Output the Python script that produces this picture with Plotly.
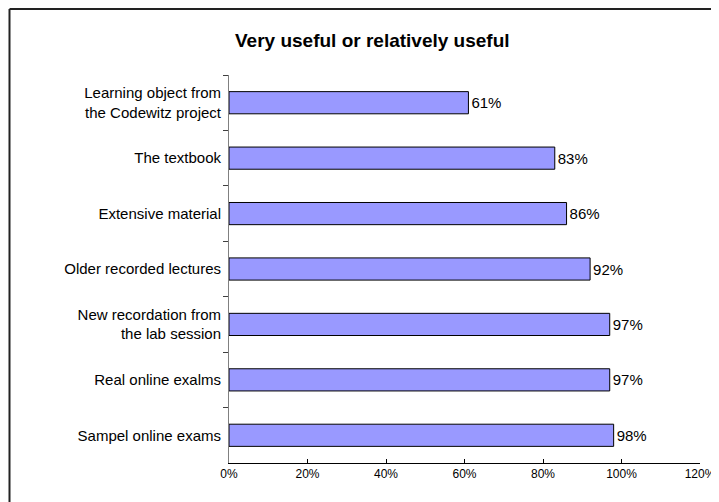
import plotly.graph_objects as go

categories = [
    "Learning object from<br>the Codewitz project",
    "The textbook",
    "Extensive material",
    "Older recorded lectures",
    "New recordation from<br>the lab session",
    "Real online exalms",
    "Sampel online exams",
]
values = [0.61, 0.83, 0.86, 0.92, 0.97, 0.97, 0.98]
value_labels = ["61%", "83%", "86%", "92%", "97%", "97%", "98%"]
x_tickvals = [0, 0.2, 0.4, 0.6, 0.8, 1.0, 1.2]
x_ticktext = ["0%", "20%", "40%", "60%", "80%", "100%", "120%"]
title_text = "Very useful or relatively useful"

# page body has an 8px default margin; figure coordinates are offset accordingly
W, H = 719, 502
L, R, T, B = 221, 27, 67, 47
pw, ph = W - L - R, H - T - B

def px_x(px):
    return (px - L) / pw

def px_y(py):
    return (H - B - py) / ph

font_family = "Liberation Sans, Arial, sans-serif"

fig = go.Figure(
    go.Bar(
        x=values,
        y=categories,
        orientation="h",
        marker=dict(color="#9999FF", line=dict(color="black", width=1)),
        text=value_labels,
        textposition="outside",
        textfont=dict(family=font_family, size=15, color="black"),
        cliponaxis=False,
        hoverinfo="skip",
    )
)

fig.update_layout(
    width=W,
    height=H,
    margin=dict(l=L, r=R, t=T, b=B),
    paper_bgcolor="white",
    plot_bgcolor="white",
    bargap=0.6,
    showlegend=False,
    font=dict(family=font_family, size=15, color="black"),
    xaxis=dict(
        range=[0, 1.2],
        tickvals=x_tickvals,
        ticktext=x_ticktext,
        showgrid=False,
        zeroline=False,
        showline=True,
        linecolor="black",
        linewidth=1,
        ticks="inside",
        ticklen=4,
        tickcolor="black",
        tickfont=dict(size=12),
        fixedrange=True,
    ),
    yaxis=dict(
        categoryorder="array",
        categoryarray=categories,
        autorange="reversed",
        showgrid=False,
        zeroline=False,
        showline=True,
        linecolor="#808080",
        linewidth=1,
        ticks="outside",
        tickson="boundaries",
        ticklen=5,
        tickcolor="#404040",
        ticklabelstandoff=4,
        tickfont=dict(size=15),
        fixedrange=True,
    ),
    annotations=[
        dict(
            text="<b>" + title_text + "</b>",
            xref="paper",
            yref="paper",
            x=px_x(364),
            y=px_y(32),
            xanchor="center",
            yanchor="middle",
            showarrow=False,
            font=dict(family=font_family, size=19, color="black"),
        )
    ],
    shapes=[
        dict(type="line", xref="paper", yref="paper",
             x0=px_x(1.5), x1=px_x(730), y0=px_y(1), y1=px_y(1),
             line=dict(color="#222222", width=2)),
        dict(type="line", xref="paper", yref="paper",
             x0=px_x(1.5), x1=px_x(1.5), y0=px_y(1), y1=px_y(520),
             line=dict(color="#222222", width=2)),
    ],
)

fig.write_html("out.html")
